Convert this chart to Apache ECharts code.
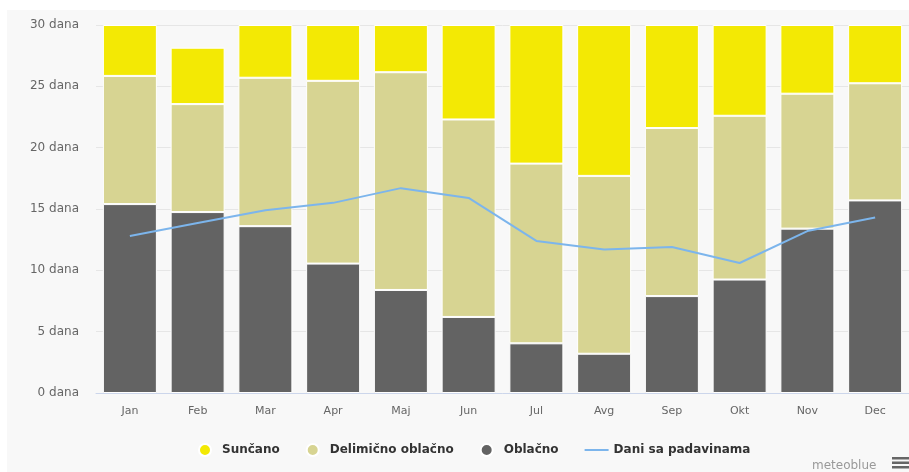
<!DOCTYPE html>
<html>
<head>
<meta charset="utf-8">
<title>Klima</title>
<script src="https://cdn.jsdelivr.net/npm/echarts@6/dist/echarts.min.js"></script>
<style>
  html, body { margin: 0; padding: 0; background: #ffffff; }
  #panel { position: absolute; left: 7px; top: 10px; width: 902px; height: 462px; background: #f8f8f8; }
  #chart { position: absolute; left: 0; top: 0; width: 909px; height: 472px; }
</style>
</head>
<body>
<div id="panel"></div>
<div id="chart"></div>
<script>
// Months
const months = ['Jan', 'Feb', 'Mar', 'Apr', 'Maj', 'Jun', 'Jul', 'Avg', 'Sep', 'Okt', 'Nov', 'Dec'];

// Days per month, by sky condition (stacked bottom to top: cloudy, partly cloudy, sunny)
const oblacno    = [15.4, 14.75, 13.6, 10.55, 8.4, 6.2, 4.05, 3.2, 7.9, 9.25, 13.4, 15.7];
const delimicno  = [10.45, 8.8, 12.1, 14.9, 17.75, 16.1, 14.65, 14.5, 13.7, 13.35, 11.0, 9.55];
const suncano    = [4.15, 4.6, 4.3, 4.55, 3.85, 7.7, 11.3, 12.3, 8.4, 7.4, 5.6, 4.75];

// Days with precipitation
const padavine   = [12.8, 13.85, 14.9, 15.5, 16.7, 15.9, 12.4, 11.7, 11.9, 10.6, 13.2, 14.3];

// Y axis ticks
const yMin = 0, yMax = 30, yStep = 5;
const yUnit = ' dana';

const FONT = "'DejaVu Sans', sans-serif";

const chart = echarts.init(document.getElementById('chart'), null, { renderer: 'canvas' });

const barStyle = (color) => ({ color: color, borderColor: '#ffffff', borderWidth: 1 });

chart.setOption({
  backgroundColor: 'transparent',
  animation: false,
  textStyle: { fontFamily: FONT },
  grid: { left: 96, width: 819, top: 25, height: 368 },
  legend: {
    left: 193,
    top: 438,
    itemWidth: 24,
    itemHeight: 12,
    itemGap: 26,
    textStyle: { fontFamily: FONT, fontSize: 12, fontWeight: 'bold', color: '#333333' },
    data: [
      { name: 'Sunčano', icon: 'circle' },
      { name: 'Delimično oblačno', icon: 'circle' },
      { name: 'Oblačno', icon: 'circle' },
      { name: 'Dani sa padavinama', icon: 'path://M0,0h24v2h-24z' }
    ]
  },
  xAxis: {
    type: 'category',
    data: months,
    axisLine: { show: true, lineStyle: { color: '#ccd6eb', width: 1 } },
    axisTick: { show: false },
    axisLabel: { color: '#666666', fontSize: 11, margin: 13, fontFamily: FONT }
  },
  yAxis: {
    type: 'value',
    min: yMin,
    max: yMax,
    interval: yStep,
    axisLine: { show: false },
    axisTick: { show: false },
    axisLabel: {
      color: '#666666', fontSize: 12, margin: 17, fontFamily: FONT,
      formatter: (v) => v + yUnit
    },
    splitLine: { lineStyle: { color: '#e6e6e6', width: 1 } }
  },
  series: [
    { name: 'Oblačno', type: 'bar', stack: 'dani', data: oblacno, barWidth: 54, itemStyle: barStyle('#636363') },
    { name: 'Delimično oblačno', type: 'bar', stack: 'dani', data: delimicno, barWidth: 54, itemStyle: barStyle('#d7d492') },
    { name: 'Sunčano', type: 'bar', stack: 'dani', data: suncano, barWidth: 54, itemStyle: barStyle('#f3e904') },
    {
      name: 'Dani sa padavinama', type: 'line', data: padavine, z: 5,
      symbol: 'none', showSymbol: false,
      lineStyle: { color: '#7cb5ec', width: 2 }, itemStyle: { color: '#7cb5ec' }
    }
  ],
  graphic: [
    { type: 'text', left: 812, top: 460, style: { text: 'meteoblue', fill: '#999999', font: "12px " + FONT } },
    { type: 'rect', shape: { x: 892, y: 457, width: 17, height: 2.5 }, style: { fill: '#666666' } },
    { type: 'rect', shape: { x: 892, y: 461.5, width: 17, height: 2.5 }, style: { fill: '#666666' } },
    { type: 'rect', shape: { x: 892, y: 466, width: 17, height: 2.5 }, style: { fill: '#666666' } }
  ]
});
</script>
</body>
</html>
